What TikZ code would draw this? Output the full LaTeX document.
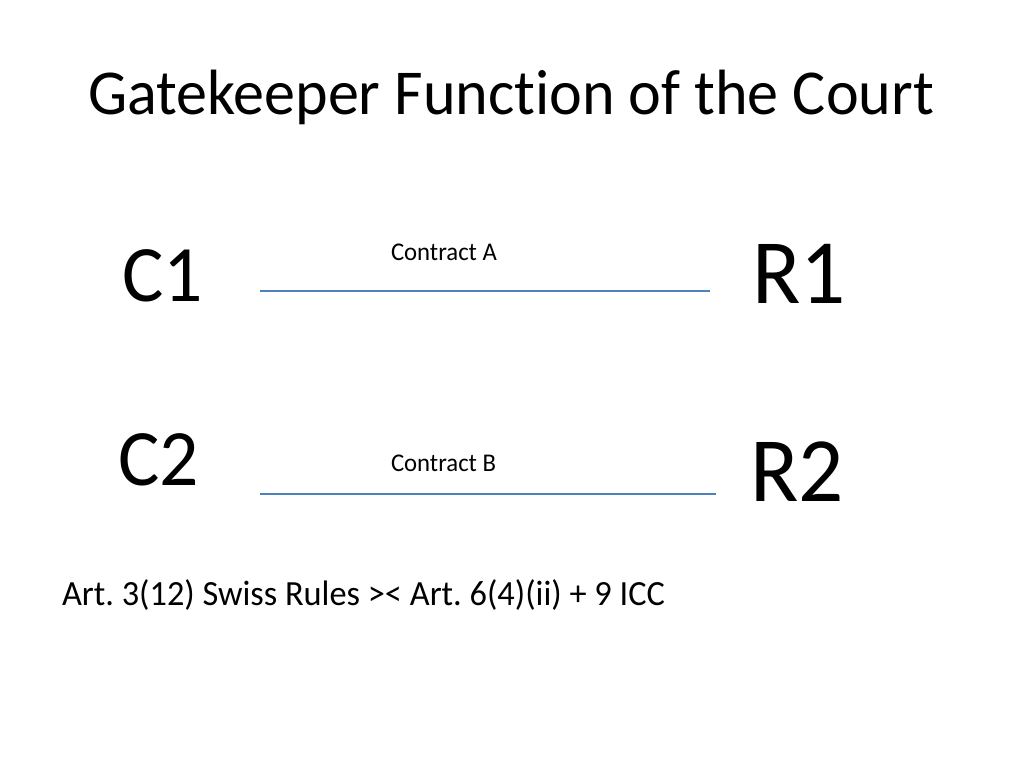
\documentclass[tikz,border=0pt]{standalone}
\usepackage{fontspec}
\setmainfont{Carlito}[FakeStretch=0.97,Ligatures=NoCommon]
\frenchspacing
\definecolor{lineblue}{HTML}{4F81BD}
\begin{document}
\begin{tikzpicture}[x=1pt,y=-1pt,
  lbl/.style={anchor=base west,inner sep=0pt,outer sep=0pt,text=black},
  party/.style={lbl,font=\fontsize{80}{96}\selectfont},
  resp/.style={lbl,font=\fontsize{92}{110}\selectfont},
  small/.style={lbl,font=\fontsize{25.5}{30}\selectfont},
  contract/.style={draw=lineblue,line width=1.8pt}]
\useasboundingbox[fill=white] (0,0) rectangle (1024,768);
\node[lbl,font=\fontsize{64}{77}\selectfont] (title) at (88,114) {Gatekeeper Function of the Court};
\node[party] (c1) at (122,301) {C1};
\node[resp] (r1) at (752,303) {R1};
\node[party] (c2) at (118,485) {C2};
\node[resp] (r2) at (750,501) {R2};
\node[small] (ca) at (391,260) {Contract A};
\node[small] (cb) at (391,471) {Contract B};
\coordinate (a1) at (260,291);
\coordinate (a2) at (710,291);
\coordinate (b1) at (260,494);
\coordinate (b2) at (716,494);
\draw[contract] (a1) -- (a2);
\draw[contract] (b1) -- (b2);
\node[lbl,font=\fontsize{35.4}{42}\selectfont] (art) at (62,605) {Art. 3(12) Swiss Rules >< Art. 6(4)(ii) + 9 ICC};
\end{tikzpicture}
\end{document}
